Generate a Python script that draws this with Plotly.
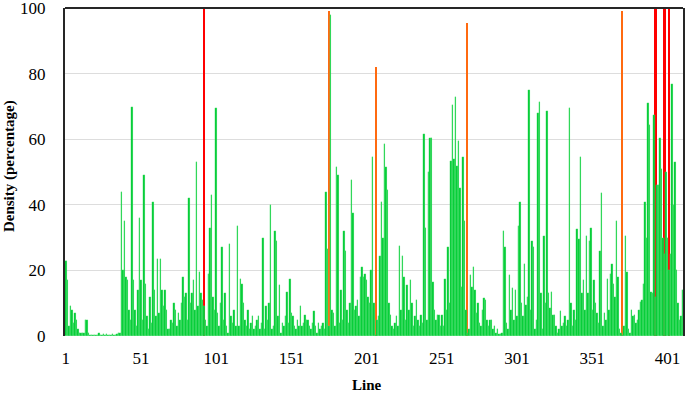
import plotly.graph_objects as go

# Green series: density (percentage) for each line 1..411
density = [
    23, 17, 3, 9, 8, 4, 7, 5, 2, 1,
    1, 1, 1, 5, 5, 1, 0.3, 0.3, 0.3, 0.3,
    0.3, 0.3, 1, 0.3, 0.3, 0.6, 0.3, 0.6, 0.3, 0.3,
    0.3, 0.5, 0.3, 0.3, 0.5, 0.8, 0.8, 44, 20, 35,
    18, 17, 8, 5, 70, 17, 8, 3, 14, 36,
    17, 5, 49, 16, 6, 2, 12, 4, 41, 14,
    6, 23.5, 7, 23.5, 14, 9, 14, 8, 2, 2,
    5, 4, 10, 8, 3, 7, 5, 10, 18, 12,
    13, 5, 42, 10, 13, 17, 8, 53, 9, 19.5,
    13, 11, 9, 5, 3, 19, 33, 43, 12, 8,
    69.5, 7, 3, 10, 27, 5, 13, 3, 1, 28,
    6, 4, 8, 3, 33.5, 3, 17.5, 16, 10, 5,
    3, 8, 2, 4, 6, 2, 3, 5, 6, 2,
    4, 30, 2, 9, 5, 10, 40, 2, 3, 32,
    29, 6, 15.5, 1, 4, 3, 6, 13.5, 4, 17.5,
    7, 6, 3, 2, 5, 3, 9, 3, 4, 6.5,
    5, 5, 3, 2, 4, 7.5, 3, 1, 4, 2,
    3, 4, 2, 44, 26.5, 3, 98, 8, 7, 3,
    51.5, 49, 4, 14, 5, 32, 26, 8, 4, 10,
    47.5, 37.5, 8, 9, 11, 6, 18, 21, 18, 19,
    17, 12, 10, 20, 54.5, 10, 0.3, 5, 6, 24.5,
    41, 30, 58.5, 51.5, 44.5, 10, 6.5, 3, 2, 4,
    6, 3, 27.5, 8, 24.5, 18, 5, 15.5, 8, 17,
    10, 3, 6, 11, 5, 3, 6.5, 4, 61.5, 33,
    5, 50, 60.5, 60.5, 16.5, 8, 5, 6.5, 6.5, 3,
    6.5, 3, 17.5, 8, 27, 10, 53.5, 70.5, 54, 73,
    52, 59.5, 45, 15, 54.5, 35, 8, 1, 2, 18.5,
    15, 21, 14, 7, 10, 4, 3, 8, 11.5, 11,
    5, 3, 5, 5, 2, 3, 1, 2, 0.5, 0.5,
    1, 32, 27, 4, 2, 18.5, 8, 14.5, 5, 14,
    6, 33.5, 41, 10, 6, 22, 9.5, 12, 75, 8,
    29, 27, 2, 5, 68, 71.5, 13, 2, 30.5, 10,
    68.5, 13, 8.5, 13.5, 6.5, 6.5, 3, 1, 2, 7.5,
    3, 4, 6, 3, 5, 69.5, 10, 3, 8, 5,
    32.5, 29.5, 54.5, 13, 17, 8, 30.5, 13, 29, 33,
    8, 17, 10, 7, 4, 26, 43.5, 3, 7, 5,
    17.5, 8, 19, 22, 16, 12, 35, 18, 2, 1,
    0.3, 3, 30.5, 19.5, 2, 1, 8, 6, 6.5, 4,
    5, 8, 10.5, 11, 16, 41, 30, 71, 64.5, 13.5,
    13, 67.5, 12, 46, 46, 60.5, 51, 30, 25, 50,
    30, 20, 25, 77, 40, 53, 20, 10, 5, 6,
    14,
]
lines = list(range(1, len(density) + 1))

# Highlighted lines
red_lines = [93, 393, 399, 402]
red_values = [105, 105, 105, 105]
orange_lines = [176, 207, 268, 371]
orange_values = [99, 82, 95.5, 99]

x_ticks = [1, 51, 101, 151, 201, 251, 301, 351, 401]
y_ticks = [0, 20, 40, 60, 80, 100]

fig = go.Figure()
fig.add_trace(go.Bar(x=red_lines, y=red_values, width=1.6,
                     marker=dict(color="#FF0000", line=dict(width=0)),
                     showlegend=False))
fig.add_trace(go.Bar(x=orange_lines, y=orange_values, width=1.4,
                     marker=dict(color="#FF6A10", line=dict(width=0)),
                     showlegend=False))
fig.add_trace(go.Bar(x=lines, y=density, width=1.0,
                     marker=dict(color="#00CC33",
                                 line=dict(color="rgba(120,235,150,0.8)", width=0.25)),
                     showlegend=False))

fig.update_layout(
    width=685, height=393,
    margin=dict(l=65, r=2, t=8, b=57),
    paper_bgcolor="white", plot_bgcolor="white",
    barmode="overlay", bargap=0,
    font=dict(family="Liberation Serif, Times New Roman, serif", color="black"),
    shapes=[dict(type="line", xref="paper", yref="paper", x0=0, x1=1, y0=1, y1=1,
                 line=dict(color="#262626", width=2))],
    annotations=[
        dict(text="<b>Line</b>", xref="paper", yref="paper", x=0.489, y=-0.149,
             xanchor="center", yanchor="middle", showarrow=False,
             font=dict(size=15)),
        dict(text="<b>Density (percentage)</b>", xref="paper", yref="paper",
             x=-0.0906, y=0.518, xanchor="center", yanchor="middle",
             textangle=-90, showarrow=False, font=dict(size=15)),
    ],
)
fig.update_xaxes(
    range=[0.5, 411.3], tickmode="array", tickvals=x_ticks,
    ticktext=[str(t) for t in x_ticks], tickfont=dict(size=17),
    showgrid=False, zeroline=False, showline=False, ticks="",
    ticklabelstandoff=10, automargin=False, ticklabeloverflow="allow",
)
fig.update_yaxes(
    range=[0, 100.05], tickmode="array", tickvals=y_ticks, tickfont=dict(size=17),
    showgrid=True, gridcolor="#DDDDDD", gridwidth=1, zeroline=False,
    showline=True, mirror=True, linecolor="#262626", linewidth=2, ticks="",
    ticklabelstandoff=14, automargin=False, ticklabeloverflow="allow",
)

fig.write_html(
    "out.html",
    config={"displayModeBar": False},
    post_script="document.body.style.margin='0px';document.body.style.padding='0px';"
                "document.body.style.overflow='hidden';",
)
